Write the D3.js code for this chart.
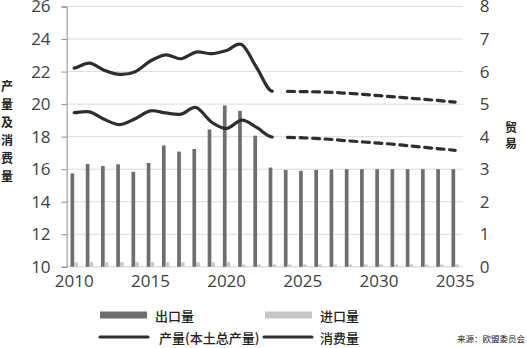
<!DOCTYPE html>
<html>
<head>
<meta charset="utf-8">
<script src="https://cdn.jsdelivr.net/npm/d3@7"></script>
<style>
  html, body { margin: 0; padding: 0; background: #fff; }
  svg { display: block; }
</style>
</head>
<body>
<svg id="chart" width="527" height="348"></svg>
<script>
// Years on the category axis
const years = d3.range(2010, 2036);

// Trade (right axis)
const exportsVol = [2.87, 3.16, 3.10, 3.15, 2.92, 3.19, 3.73, 3.54, 3.62, 4.22, 4.96, 4.79, 4.03,
                    3.05, 2.98, 2.95, 2.98, 2.99, 3.00, 3.00, 3.00, 3.00, 3.00, 3.00, 3.00, 3.00];
const importsVol = [0.14, 0.14, 0.14, 0.14, 0.14, 0.14, 0.14, 0.14, 0.14, 0.14, 0.14, 0.07, 0.07,
                    0.07, 0.07, 0.07, 0.07, 0.07, 0.07, 0.07, 0.07, 0.07, 0.07, 0.07, 0.07, 0.07];

// Production and consumption (left axis): history 2010-2023, outlook 2024-2035
const histYears = d3.range(2010, 2024);
const productionHist = [22.21, 22.52, 22.07, 21.83, 21.99, 22.65, 23.03, 22.79, 23.2, 23.1, 23.3, 23.65, 22.2, 20.8];
const consumptionHist = [19.48, 19.52, 19.05, 18.74, 19.1, 19.58, 19.46, 19.38, 19.79, 18.9, 18.5, 19.01, 18.55, 17.98];
const projYears = d3.range(2024, 2036);
const productionProj = [20.78, 20.77, 20.75, 20.72, 20.66, 20.6, 20.52, 20.45, 20.37, 20.29, 20.21, 20.12];
const consumptionProj = [17.95, 17.93, 17.88, 17.82, 17.74, 17.67, 17.6, 17.53, 17.43, 17.34, 17.25, 17.16];

// Axis ticks
const leftTicks = [10, 12, 14, 16, 18, 20, 22, 24, 26];
const rightTicks = [0, 1, 2, 3, 4, 5, 6, 7, 8];
const xTickYears = [2010, 2015, 2020, 2025, 2030, 2035];

const svg = d3.select("#chart");
const plot = { left: 66.6, right: 462.8, top: 6.5, bottom: 266.8 };

const x = d3.scaleBand().domain(years).range([plot.left, plot.right]).padding(0);
const cx = yr => x(yr) + x.bandwidth() / 2;
const yL = d3.scaleLinear().domain([10, 26]).range([plot.bottom, plot.top]);
const yR = d3.scaleLinear().domain([0, 8]).range([plot.bottom, plot.top]);

const tickFont = "'Open Sans', 'DejaVu Sans', sans-serif";
const cjkFont = "'Noto Sans CJK SC', sans-serif";

// Gridlines
svg.append("g")
  .selectAll("line")
  .data(leftTicks.filter(t => t > 10))
  .join("line")
  .attr("x1", plot.left).attr("x2", plot.right)
  .attr("y1", d => yL(d)).attr("y2", d => yL(d))
  .attr("stroke", "#dcdcdc").attr("stroke-width", 1);

// Bottom baseline
svg.append("line")
  .attr("x1", plot.left).attr("x2", plot.right)
  .attr("y1", plot.bottom).attr("y2", plot.bottom)
  .attr("stroke", "#d0d0d0").attr("stroke-width", 1);

// Bars
const barW = 3.7;
svg.append("g").selectAll("rect")
  .data(years.map((yr, i) => ({ yr, v: exportsVol[i] })))
  .join("rect")
  .attr("x", d => cx(d.yr) - barW)
  .attr("width", barW)
  .attr("y", d => yR(d.v))
  .attr("height", d => yR(0) - yR(d.v))
  .attr("fill", "#6e6e6e");

svg.append("g").selectAll("rect")
  .data(years.map((yr, i) => ({ yr, v: importsVol[i] })))
  .join("rect")
  .attr("x", d => cx(d.yr))
  .attr("width", barW)
  .attr("y", d => yR(d.v))
  .attr("height", d => yR(0) - yR(d.v))
  .attr("fill", "#c6c6c6");

// Smoothed path: Hermite segments with centred tangents; the series ends level
function smoothPath(yrs, vals) {
  const pts = yrs.map((yr, i) => [cx(yr), yL(vals[i])]);
  const n = pts.length;
  const m = pts.map((p, i) => {
    if (i === n - 1) return 0;
    if (i === 0) return (pts[1][1] - p[1]) / (pts[1][0] - p[0]) * 0.6;
    return (pts[i + 1][1] - pts[i - 1][1]) / (pts[i + 1][0] - pts[i - 1][0]);
  });
  const path = d3.path();
  path.moveTo(pts[0][0], pts[0][1]);
  for (let i = 0; i < n - 1; i++) {
    const [x0, y0] = pts[i], [x1, y1] = pts[i + 1];
    const h = (x1 - x0) / 3;
    path.bezierCurveTo(x0 + h, y0 + m[i] * h, x1 - h, y1 - m[i + 1] * h, x1, y1);
  }
  return path.toString();
}

const line = d3.line()
  .x(d => cx(d[0]))
  .y(d => yL(d[1]))
  .curve(d3.curveCatmullRom.alpha(0.5));

const lineColor = "#2e2e2e";
function drawHist(vals) {
  svg.append("path")
    .attr("d", smoothPath(histYears, vals))
    .attr("fill", "none")
    .attr("stroke", lineColor)
    .attr("stroke-width", 3.2)
    .attr("stroke-linecap", "round");
}
function drawProj(vals) {
  svg.append("path")
    .datum(projYears.map((yr, i) => [yr, vals[i]]))
    .attr("d", line)
    .attr("fill", "none")
    .attr("stroke", lineColor)
    .attr("stroke-width", 3.2)
    .attr("stroke-linecap", "round")
    .attr("stroke-dasharray", "7,5.5");
}
drawHist(productionHist);
drawHist(consumptionHist);
drawProj(productionProj);
drawProj(consumptionProj);

// Left axis
const leftAxis = d3.axisLeft(yL).tickValues(leftTicks).tickSize(5).tickPadding(11);
const gL = svg.append("g").attr("transform", `translate(${plot.left},0)`).call(leftAxis);
gL.select(".domain").attr("stroke", "#8a8a8a");
gL.selectAll(".tick line").attr("stroke", "#8a8a8a");
gL.selectAll(".tick text")
  .attr("font-family", tickFont).attr("font-size", 17).attr("fill", "#404040");

// Right axis (labels only)
const rightAxis = d3.axisRight(yR).tickValues(rightTicks).tickSize(0).tickPadding(17);
const gR = svg.append("g").attr("transform", `translate(${plot.right},0)`).call(rightAxis);
gR.select(".domain").remove();
gR.selectAll(".tick text")
  .attr("font-family", tickFont).attr("font-size", 17).attr("fill", "#404040");

// Bottom axis
const bottomAxis = d3.axisBottom(x).tickValues(xTickYears).tickSize(0).tickPadding(8);
const gB = svg.append("g").attr("transform", `translate(0,${plot.bottom})`).call(bottomAxis);
gB.select(".domain").remove();
gB.selectAll(".tick text")
  .attr("font-family", tickFont).attr("font-size", 17).attr("fill", "#404040");

// Axis titles, stacked vertically
const leftTitle = "产量及消费量".split("");
svg.append("g").selectAll("text")
  .data(leftTitle)
  .join("text")
  .attr("x", 7)
  .attr("y", (d, i) => 91 + i * 18)
  .attr("text-anchor", "middle")
  .attr("font-family", cjkFont).attr("font-size", 12).attr("font-weight", 700)
  .attr("fill", "#222")
  .text(d => d);

const rightTitle = "贸易".split("");
svg.append("g").selectAll("text")
  .data(rightTitle)
  .join("text")
  .attr("x", 511)
  .attr("y", (d, i) => 132 + i * 16)
  .attr("text-anchor", "middle")
  .attr("font-family", cjkFont).attr("font-size", 12).attr("font-weight", 700)
  .attr("fill", "#222")
  .text(d => d);

// Legend
const legend = svg.append("g");
const legendItems = [
  { label: "出口量", type: "rect", color: "#6e6e6e", x: 100, tx: 155, y: 315 },
  { label: "进口量", type: "rect", color: "#c6c6c6", x: 265, tx: 320, y: 315 },
  { label: "产量(本土总产量)", type: "line", color: lineColor, x: 100, tx: 159, y: 337 },
  { label: "消费量", type: "line", color: lineColor, x: 264, tx: 320, y: 337 }
];
legendItems.forEach(it => {
  if (it.type === "rect") {
    legend.append("rect")
      .attr("x", it.x).attr("y", it.y - 3.5).attr("width", 47).attr("height", 7)
      .attr("fill", it.color);
  } else {
    legend.append("line")
      .attr("x1", it.x).attr("x2", it.x + 48)
      .attr("y1", it.y).attr("y2", it.y)
      .attr("stroke", it.color).attr("stroke-width", 3).attr("stroke-linecap", "round");
  }
  legend.append("text")
    .attr("x", it.tx).attr("y", it.y)
    .attr("dominant-baseline", "central")
    .attr("font-family", cjkFont).attr("font-size", 13).attr("font-weight", 500)
    .attr("fill", "#222")
    .text(it.label);
});

// Source note
svg.append("text")
  .attr("x", 525).attr("y", 338)
  .attr("text-anchor", "end")
  .attr("dominant-baseline", "central")
  .attr("font-family", cjkFont).attr("font-size", 8.5)
  .attr("fill", "#222")
  .text("来源：欧盟委员会");
</script>
</body>
</html>
